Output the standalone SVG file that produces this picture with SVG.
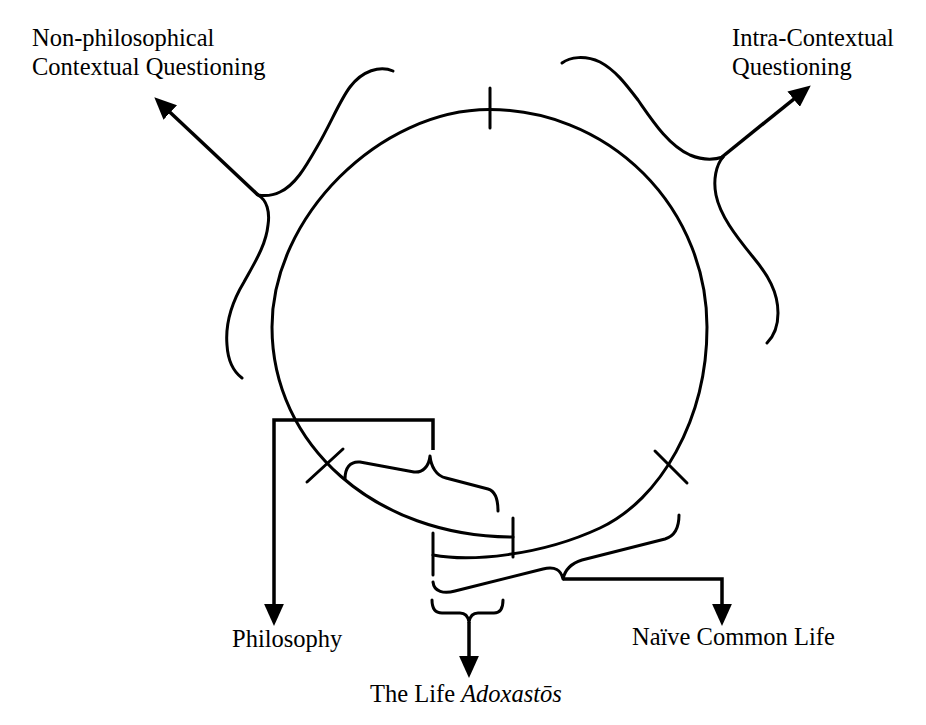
<svg xmlns="http://www.w3.org/2000/svg" width="926" height="725" viewBox="0 0 926 725">
<style>
.s{fill:none;stroke:#000;stroke-width:3;stroke-linecap:round;stroke-linejoin:round}
.c{fill:none;stroke:#000;stroke-width:3.5;stroke-linejoin:miter}
.t{font-family:"Liberation Serif","Times New Roman",serif;font-size:24.5px;fill:#000}
</style>
<defs>
<marker id="ah" markerUnits="userSpaceOnUse" markerWidth="22" markerHeight="20" refX="10" refY="9" orient="auto" viewBox="0 0 20 18">
<path d="M0,0 L20,9 L0,18 Z" fill="#000"/>
</marker>
</defs>
<rect width="926" height="725" fill="#fff"/>
<g id="circle">
<path class="s" d="M433,555 C470,562 540,556 600,528 C660,500 707,420 707,327 A217.5,217.5 0 0 0 489.5,109.5 C379.5,109.5 272,217 272,327 C272,445 375,537 513,537"/>
<line class="s" x1="490" y1="88" x2="490" y2="128"/>
<line class="s" x1="513" y1="518" x2="513" y2="557"/>
<line class="s" x1="433" y1="533" x2="433" y2="575"/>
<line class="s" x1="307" y1="482" x2="343" y2="449"/>
<line class="s" x1="655" y1="451" x2="687" y2="483"/>
</g>
<g id="brace-nonphil">
<path class="s" d="M393,71 C380,65 362,71 350,87 C340,100 330,125 317,147 C305,168 295,185 280,192 C272,196 264,196 258,195"/>
<path class="s" d="M258,195 C267,200 270,212 268,225 C266,245 255,262 244,282 C232,302 225,322 227,345 C228,362 234,372 242,378"/>
</g>
<g id="brace-intra">
<path class="s" d="M562,63 C570,57 585,55 600,62 C615,70 625,83 638,100 C652,120 668,145 690,155 C702,160 714,160 723,157"/>
<path class="s" d="M723,157 C716,165 713,180 716,195 C720,215 735,235 753,257 C768,275 778,292 778,313 C778,327 773,337 767,343"/>
</g>
<g id="brace-philosophy">
<path class="s" d="M345,479 C345,468 350,461 360,462 L414,472 C423,473 429,466 430,456 C431,466 436,476 446,478 L488,489 C495,491 498,498 498,511"/>
</g>
<g id="brace-common">
<path class="s" d="M433,582 C434,592 444,594 455,591 L543,569 C555,566 561,570 563,579 C565,570 572,563 582,560 L665,539 C675,536 679,528 679,515"/>
</g>
<g id="brace-adoxastos">
<path class="s" d="M432,600 C432,608 435,613 442,613 L460,613 C465,613 468,616 469,622 C470,616 473,613 478,613 L494,613 C500,613 503,608 503,600"/>
</g>
<g id="connectors">
<line class="c" x1="258" y1="195" x2="162.3" y2="104.9" marker-end="url(#ah)"/>
<line class="c" x1="722" y1="157" x2="802.2" y2="92.3" marker-end="url(#ah)"/>
<polyline class="c" points="433,450 433,420 274,420 274,615" marker-end="url(#ah)"/>
<polyline class="c" points="563,579 722,579 722,615" marker-end="url(#ah)"/>
<line class="c" x1="469" y1="622" x2="469" y2="667" marker-end="url(#ah)"/>
</g>
<g id="label-nonphil">
<text class="t" x="32" y="46">Non-philosophical</text>
<text class="t" x="32" y="75">Contextual Questioning</text>
</g>
<g id="label-intra">
<text class="t" x="732" y="46">Intra-Contextual</text>
<text class="t" x="732" y="75">Questioning</text>
</g>
<g id="label-philosophy">
<text class="t" x="232" y="647">Philosophy</text>
</g>
<g id="label-common">
<text class="t" x="632" y="645">Naïve Common Life</text>
</g>
<g id="label-adoxastos">
<text class="t" x="370" y="702">The Life <tspan font-style="italic">Adoxastōs</tspan></text>
</g>
</svg>
